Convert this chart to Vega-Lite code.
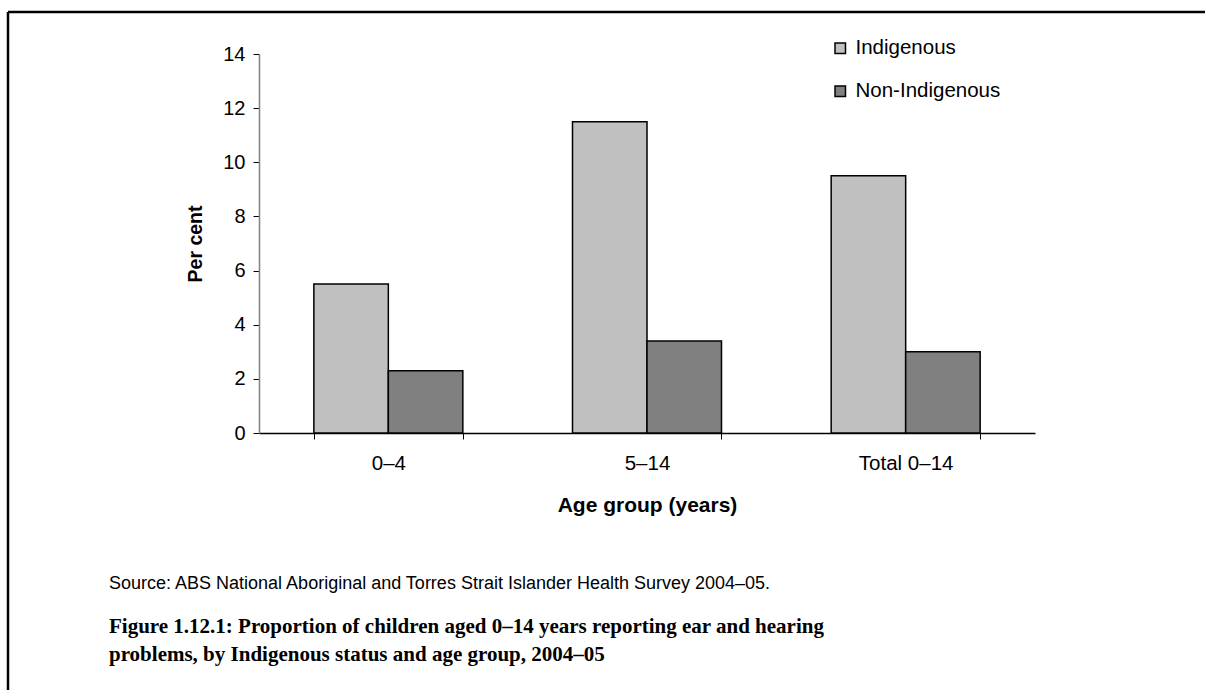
{
  "$schema": "https://vega.github.io/schema/vega-lite/v6.json",
  "width": 1197,
  "height": 678,
  "autosize": {"type": "none"},
  "padding": {"left": 8, "top": 12, "right": 0, "bottom": 0},
  "background": "white",
  "config": {
    "font": "Liberation Sans",
    "view": {"stroke": "black", "strokeWidth": 2.5, "strokeDash": [1197, 1875, 678, 0]}
  },
  "title": {
    "text": "Source: ABS National Aboriginal and Torres Strait Islander Health Survey 2004–05.",
    "subtitle": ["Figure 1.12.1: Proportion of children aged 0–14 years reporting ear and hearing", "problems, by Indigenous status and age group, 2004–05"],
    "orient": "bottom",
    "anchor": "start",
    "frame": "group",
    "offset": -115,
    "dx": 101,
    "font": "Liberation Sans",
    "fontSize": 18,
    "fontWeight": "normal",
    "color": "black",
    "subtitleFont": "Liberation Serif",
    "subtitleFontSize": 21,
    "subtitleFontWeight": "bold",
    "subtitleColor": "black",
    "subtitleLineHeight": 28,
    "subtitlePadding": 23
  },
  "data": {
    "values": [
      {"age": "0–4", "status": "Indigenous", "pct": 5.5},
      {"age": "0–4", "status": "Non-Indigenous", "pct": 2.3},
      {"age": "5–14", "status": "Indigenous", "pct": 11.5},
      {"age": "5–14", "status": "Non-Indigenous", "pct": 3.4},
      {"age": "Total 0–14", "status": "Indigenous", "pct": 9.5},
      {"age": "Total 0–14", "status": "Non-Indigenous", "pct": 3.0}
    ]
  },
  "mark": {"type": "bar", "stroke": "black", "strokeWidth": 1.5},
  "encoding": {
    "x": {
      "field": "age",
      "type": "nominal",
      "sort": ["0–4", "5–14", "Total 0–14"],
      "scale": {"range": [251, 1027], "paddingInner": 0.424, "paddingOuter": 0.212},
      "axis": {
        "orient": "bottom",
        "offset": -257,
        "tickBand": "extent",
        "tickSize": 6,
        "tickColor": "black",
        "domainColor": "black",
        "domainWidth": 1.5,
        "labelAngle": 0,
        "labelPadding": 14,
        "labelFontSize": 20.5,
        "labelColor": "black",
        "title": "Age group (years)",
        "titleFontSize": 21,
        "titleFontWeight": "bold",
        "titleColor": "black",
        "titlePadding": 21,
        "grid": false
      }
    },
    "xOffset": {"field": "status", "sort": ["Indigenous", "Non-Indigenous"]},
    "y": {
      "field": "pct",
      "type": "quantitative",
      "scale": {"domain": [0, 14], "range": [421, 42], "nice": false},
      "axis": {
        "orient": "left",
        "offset": -251,
        "values": [0, 2, 4, 6, 8, 10, 12, 14],
        "tickSize": 6,
        "tickColor": "black",
        "domainColor": "#808080",
        "domainWidth": 1.5,
        "labelPadding": 8,
        "labelFontSize": 20,
        "labelColor": "black",
        "title": "Per cent",
        "titleFontSize": 19.5,
        "titleFontWeight": "bold",
        "titleColor": "black",
        "titlePadding": 17,
        "grid": false
      }
    },
    "color": {
      "field": "status",
      "type": "nominal",
      "scale": {"domain": ["Indigenous", "Non-Indigenous"], "range": ["#c0c0c0", "#808080"]},
      "legend": {
        "title": null,
        "orient": "none",
        "legendX": 822,
        "legendY": 26,
        "symbolType": "square",
        "symbolSize": 110,
        "symbolStrokeColor": "black",
        "symbolStrokeWidth": 1.5,
        "symbolOpacity": 1,
        "labelFontSize": 20.5,
        "labelColor": "black",
        "labelOffset": 5,
        "rowPadding": 22
      }
    }
  }
}
